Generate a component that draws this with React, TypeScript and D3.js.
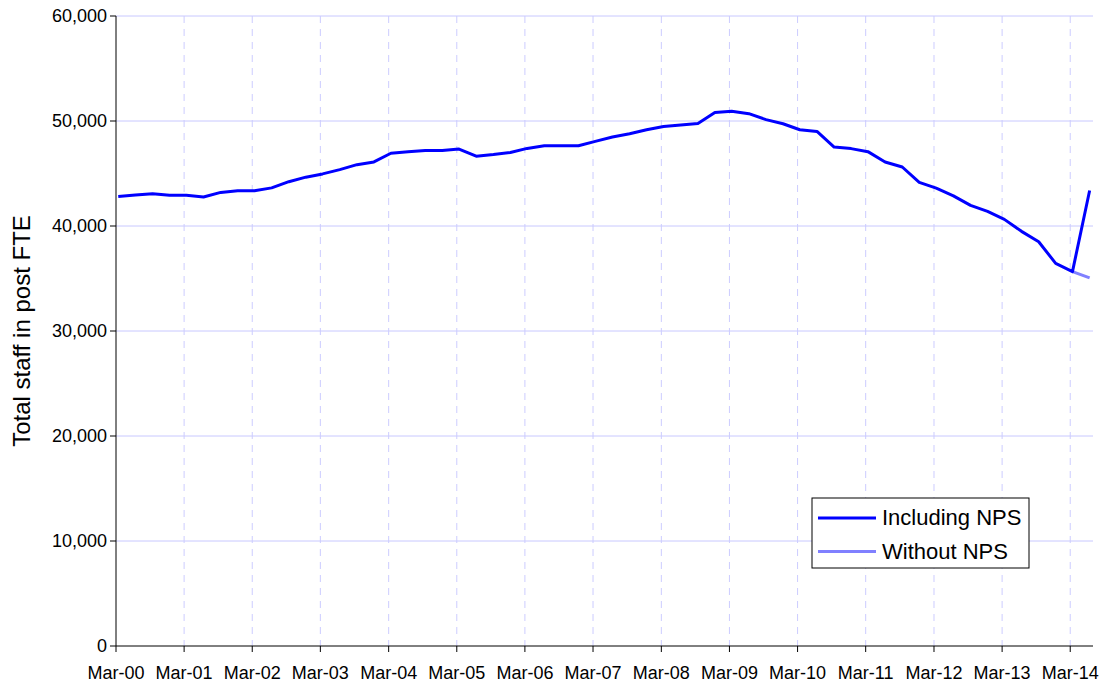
import React from "react";
import * as d3 from "d3";

// Quarter periods (year-month)
const periods: string[] = [
  "2000-03", "2000-06", "2000-09", "2000-12",
  "2001-03", "2001-06", "2001-09", "2001-12",
  "2002-03", "2002-06", "2002-09", "2002-12",
  "2003-03", "2003-06", "2003-09", "2003-12",
  "2004-03", "2004-06", "2004-09", "2004-12",
  "2005-03", "2005-06", "2005-09", "2005-12",
  "2006-03", "2006-06", "2006-09", "2006-12",
  "2007-03", "2007-06", "2007-09", "2007-12",
  "2008-03", "2008-06", "2008-09", "2008-12",
  "2009-03", "2009-06", "2009-09", "2009-12",
  "2010-03", "2010-06", "2010-09", "2010-12",
  "2011-03", "2011-06", "2011-09", "2011-12",
  "2012-03", "2012-06", "2012-09", "2012-12",
  "2013-03", "2013-06", "2013-09", "2013-12",
  "2014-03", "2014-06",
];

const includingNPS: number[] = [
  42800, 42950, 43080, 42920,
  42920, 42760, 43200, 43350,
  43360, 43630, 44220, 44650,
  44960, 45370, 45840, 46100,
  46930, 47060, 47180, 47180,
  47330, 46650, 46800, 47000,
  47390, 47650, 47650, 47650,
  48060, 48480, 48790, 49170,
  49480, 49620, 49760, 50820,
  50920, 50700, 50130, 49740,
  49170, 49010, 47520, 47370,
  47080, 46100, 45620, 44150,
  43600, 42870, 41960, 41390,
  40630, 39490, 38500, 36440,
  35660, 43380,
];

const withoutPeriods: string[] = ["2014-03", "2014-06"];
const withoutNPS: number[] = [35660, 35060];

const yTicks: number[] = [0, 10000, 20000, 30000, 40000, 50000, 60000];
const xTickLabels: string[] = [
  "Mar-00", "Mar-01", "Mar-02", "Mar-03", "Mar-04", "Mar-05", "Mar-06",
  "Mar-07", "Mar-08", "Mar-09", "Mar-10", "Mar-11", "Mar-12", "Mar-13", "Mar-14",
];

const seriesNames = ["Including NPS", "Without NPS"];
const seriesColors = ["#0000ff", "#8080ff"];

const FONT = "'Liberation Sans', Arial, sans-serif";

const parsePeriod = (p: string) => {
  const [y, m] = p.split("-").map(Number);
  return new Date(y, m - 1, 13);
};
const parseTick = d3.timeParse("%b-%y");

export default function App() {
  const W = 1106, H = 683;
  const left = 116, right = 1093, top = 16, bottom = 646;

  const x = d3.scaleTime()
    .domain([new Date(2000, 2, 1), new Date(2014, 6, 1)])
    .range([left, right]);
  const y = d3.scaleLinear().domain([0, 60000]).range([bottom, top]);

  const line = d3.line<[Date, number]>()
    .x(d => x(d[0]))
    .y(d => y(d[1]));

  const incData: [Date, number][] = periods.map((p, i) => [parsePeriod(p), includingNPS[i]]);
  const woData: [Date, number][] = withoutPeriods.map((p, i) => [parsePeriod(p), withoutNPS[i]]);

  const fmt = d3.format(",");
  const tickDates = xTickLabels.map(t => parseTick(t) as Date);

  const legendX = 812, legendY = 498, legendW = 217, legendH = 70;

  return (
    <svg width={W} height={H} style={{ position: "absolute", left: 0, top: 0, background: "#fff" }}
      fontFamily={FONT}>
      <rect x={0} y={0} width={W} height={H} fill="#fff" />
      {/* horizontal gridlines */}
      {yTicks.filter(t => t > 0).map(t => (
        <line key={"hg" + t} x1={left} x2={right} y1={y(t)} y2={y(t)} stroke="#c8c8ff" strokeWidth={1} />
      ))}
      {/* vertical dashed gridlines */}
      {tickDates.slice(1).map((d, i) => (
        <line key={"vg" + i} x1={x(d)} x2={x(d)} y1={top} y2={bottom} stroke="#ccccff" strokeWidth={1}
          strokeDasharray="7,6" />
      ))}
      {/* axes */}
      <line x1={left} x2={left} y1={top} y2={bottom} stroke="#000" strokeWidth={1} />
      <line x1={left} x2={right} y1={bottom} y2={bottom} stroke="#000" strokeWidth={1} />
      {yTicks.map(t => (
        <g key={"yt" + t}>
          <line x1={left - 6} x2={left} y1={y(t)} y2={y(t)} stroke="#000" />
          <text x={left - 9} y={y(t)} dy="0.35em" textAnchor="end" fontSize={18} fill="#000">{fmt(t)}</text>
        </g>
      ))}
      {tickDates.map((d, i) => (
        <g key={"xt" + i}>
          <line x1={x(d)} x2={x(d)} y1={bottom} y2={bottom + 6} stroke="#000" />
          <text x={x(d)} y={679} textAnchor="middle" fontSize={18} fill="#000">{xTickLabels[i]}</text>
        </g>
      ))}
      {/* y axis title */}
      <text transform={`translate(30,${(top + bottom) / 2}) rotate(-90)`} textAnchor="middle" fontSize={24} fill="#000">
        Total staff in post FTE
      </text>
      {/* series */}
      <path d={line(woData) || ""} fill="none" stroke={seriesColors[1]} strokeWidth={3} />
      <path d={line(incData) || ""} fill="none" stroke={seriesColors[0]} strokeWidth={3} strokeLinejoin="round" />
      {/* legend */}
      <rect x={legendX} y={legendY} width={legendW} height={legendH} fill="#fff" stroke="#000" strokeWidth={1} />
      {seriesNames.map((n, i) => (
        <g key={n}>
          <line x1={legendX + 6} x2={legendX + 64} y1={legendY + 20 + i * 33.5} y2={legendY + 20 + i * 33.5}
            stroke={seriesColors[i]} strokeWidth={3} />
          <text x={legendX + 70} y={legendY + 27 + i * 34} fontSize={22} fill="#000">{n}</text>
        </g>
      ))}
    </svg>
  );
}
